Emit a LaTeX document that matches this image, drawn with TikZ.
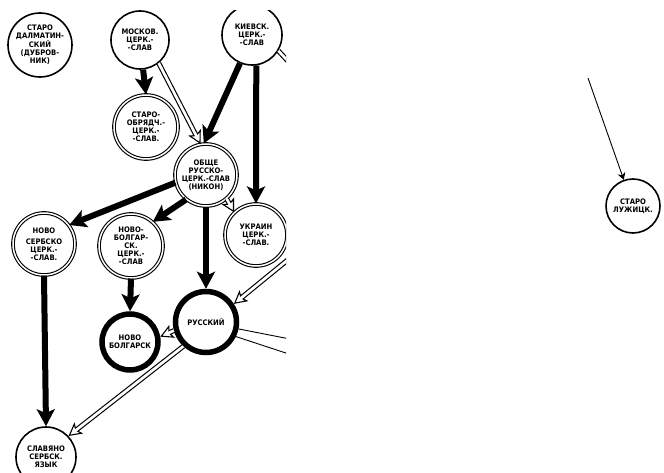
\documentclass[tikz,border=0pt]{standalone}
\usepackage{fontspec}
\newfontfamily\cyr{DejaVu Sans Condensed}
\usetikzlibrary{arrows.meta}

\begin{document}
\begin{tikzpicture}[x=1pt, y=-1pt,
	c/.style = {circle, draw, line width=1.6pt, inner sep=0pt, align=center, font=\cyr\bfseries\fontsize{7.6}{7.9}\selectfont},
	d/.style = {c, double, line width=1.1pt, double distance=1.5pt},
	t/.style = {c, line width=5.5pt},
	f/.style = {line width=6pt, -{Stealth[length=17pt, width=18pt, inset=4pt]}},
	h/.style = {line width=5pt, -{Stealth[length=13pt, width=14pt, inset=3pt, fill=white, line width=1.1pt]},
		postaction={draw=white, line width=2.7pt, -, shorten >=6pt}},
	hl/.style = {line width=5pt, postaction={draw=white, line width=2.7pt}},
	l/.style = {line width=0.9pt}
	]
	\useasboundingbox (0,0) rectangle (664,473);
	
	\begin{scope}
	\clip (0,11) rectangle (286,473);
	
	%Nodes
	\node[c, minimum size=64]	(st-dalm)	at	(40, 45)	{СТАРО\\ДАЛМАТИН-\\СКИЙ\\(ДУБРОВ-\\НИК)};
	\node[c, minimum size=58]	(mosk)		at	(140, 40)	{МОСКОВ.\\ЦЕРК.-\\-СЛАВ};
	\node[c, minimum size=60]	(kiev)		at	(252, 35)	{КИЕВСК.\\ЦЕРК.-\\-СЛАВ};
	\node[d, minimum size=64]	(st-obr)	at	(146, 127)	{СТАРО-\\ОБРЯДЧ.-\\ЦЕРК.-\\-СЛАВ.};
	\node[d, minimum size=62]	(obsc)		at	(206, 175)	{ОБЩЕ\\РУССКО-\\ЦЕРК.-СЛАВ\\(НИКОН)};
	
	\node[d, minimum size=62]	(n-serb)	at	(44, 244)	{НОВО\\[3pt]СЕРБСКО\\ЦЕРК.-\\-СЛАВ.};
	\node[d, minimum size=64]	(n-bolgc)	at	(131, 246)	{НОВО-\\БОЛГАР-\\СК.\\ЦЕРК.-\\-СЛАВ};
	\node[d, minimum size=62]	(ukr)		at	(256, 235)	{УКРАИН\\ЦЕРК.-\\-СЛАВ.};
	
	\node[t, minimum size=56]	(n-bolg)	at	(130, 342)	{НОВО\\БОЛГАРСК};
	\node[t, minimum size=61]	(rus)		at	(206, 322)	{РУССКИЙ};
	\node[c, minimum size=60]	(sl-serb)	at	(46, 457)	{СЛАВЯНО\\СЕРБСК.\\ЯЗЫК};
	
	\coordinate	(kiev-out)	at	(300, 74);
	\coordinate	(rus-in)	at	(295, 254);
	\coordinate	(rus-out1)	at	(295, 340);
	\coordinate	(rus-out2)	at	(295, 356);
	
	%Lines
	\draw[f]	(mosk.-84)		--	(st-obr.north);
	\draw[h]	(mosk.-51)		--	(obsc.100);
	\draw[f]	(kiev.-113)		--	(obsc.94);
	\draw[f]	(kiev.-82)		--	(ukr.north);
	\draw[hl]	(kiev.-31)		--	(kiev-out);
	
	\draw[f]	(obsc.194)		--	(n-serb.37);
	\draw[f]	(obsc.231)		--	(n-bolgc.48);
	\draw[f]	(obsc.south)	--	(rus.north);
	\draw[h]	(obsc.-49)		--	(ukr.134);
	
	\draw[f]	(n-serb.south)	--	(sl-serb.north);
	\draw[f]	(n-bolgc.south)	--	(n-bolg.north);
	\draw[h]	(rus.195)		--	(n-bolg.10);
	\draw[h]	(rus.227)		--	(sl-serb.43);
	\draw[h]	(rus-in)		--	(rus.33);
	\draw[l]	(rus.-12)		--	(rus-out1);
	\draw[l]	(rus.-26)		--	(rus-out2);
	\end{scope}
	
	%Right
	\node[c, minimum size=54]	(st-luzh)	at	(633, 206)	{СТАРО\\ЛУЖИЦК.};
	\coordinate	(luzh-in)	at	(588, 78);
	\draw[l, -{Stealth[length=7pt, width=8pt]}]	(luzh-in)	--	(st-luzh);
	
\end{tikzpicture}
\end{document}
